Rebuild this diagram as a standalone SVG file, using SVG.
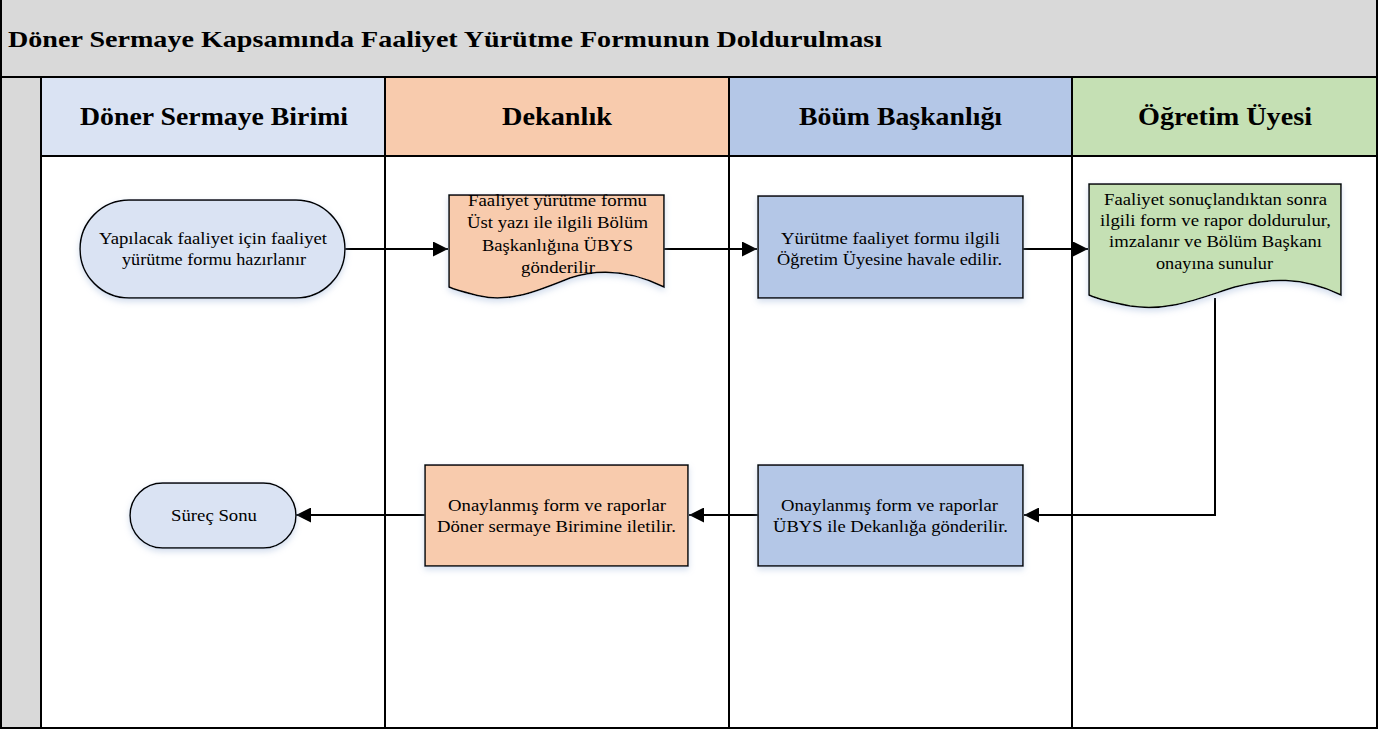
<svg xmlns="http://www.w3.org/2000/svg" width="1398" height="731" viewBox="0 0 1398 731">
  <style>
    .frame { stroke: #000; stroke-width: 2; }
    .shape { stroke: #000; stroke-width: 1.5; filter: url(#soft); }
    .title { font-family: "Liberation Serif", "Times New Roman", "DejaVu Serif", serif; font-weight: bold; font-size: 23px; fill: #000; }
    .lane { font-family: "Liberation Serif", "Times New Roman", "DejaVu Serif", serif; font-weight: bold; font-size: 26px; fill: #000; }
    .label { font-family: "Liberation Serif", "Times New Roman", "DejaVu Serif", serif; font-size: 17px; fill: #000; }
    .flow { fill: none; stroke: #000; stroke-width: 2; marker-end: url(#arrow); }
  </style>
  <defs>
    <marker id="arrow" viewBox="0 0 10 10" refX="10" refY="5" markerWidth="7.5" markerHeight="7.5" markerUnits="strokeWidth" orient="auto">
      <path d="M0,0 L10,5 L0,10 Z" fill="#000"/>
    </marker>
    <filter id="soft" x="-10%" y="-10%" width="120%" height="130%">
      <feGaussianBlur in="SourceAlpha" stdDeviation="3"/>
      <feOffset dx="0" dy="3" result="b"/>
      <feFlood flood-color="#9db4d8" flood-opacity="0.45"/>
      <feComposite in2="b" operator="in"/>
      <feMerge><feMergeNode/><feMergeNode in="SourceGraphic"/></feMerge>
    </filter>
  </defs>

  <!-- pool frame -->
  <g id="pool">
    <rect x="1" y="-2" width="1376" height="79" fill="#d9d9d9" class="frame"/>
    <text x="8" y="47" class="title" textLength="874" lengthAdjust="spacingAndGlyphs">Döner Sermaye Kapsamında Faaliyet Yürütme Formunun Doldurulması</text>
    <rect x="1" y="77" width="40" height="651" fill="#d9d9d9" class="frame"/>
  </g>

  <!-- swimlanes -->
  <g id="lane-doner">
    <rect x="41" y="77" width="344" height="79" fill="#dae3f3" class="frame"/>
    <rect x="41" y="156" width="344" height="572" fill="#fff" class="frame"/>
    <text x="80" y="125" class="lane" textLength="268" lengthAdjust="spacingAndGlyphs">Döner Sermaye Birimi</text>
  </g>
  <g id="lane-dekanlik">
    <rect x="385" y="77" width="344" height="79" fill="#f8cbad" class="frame"/>
    <rect x="385" y="156" width="344" height="572" fill="#fff" class="frame"/>
    <text x="502" y="125" class="lane" textLength="110" lengthAdjust="spacingAndGlyphs">Dekanlık</text>
  </g>
  <g id="lane-bolum">
    <rect x="729" y="77" width="343" height="79" fill="#b4c7e7" class="frame"/>
    <rect x="729" y="156" width="343" height="572" fill="#fff" class="frame"/>
    <text x="799" y="125" class="lane" textLength="203" lengthAdjust="spacingAndGlyphs">Böüm Başkanlığı</text>
  </g>
  <g id="lane-ogretim">
    <rect x="1072" y="77" width="305" height="79" fill="#c5e0b4" class="frame"/>
    <rect x="1072" y="156" width="305" height="572" fill="#fff" class="frame"/>
    <text x="1138" y="125" class="lane" textLength="174" lengthAdjust="spacingAndGlyphs">Öğretim Üyesi</text>
  </g>

  <!-- connectors -->
  <g id="connectors">
    <path d="M345,249 H448" class="flow"/>
    <path d="M664,249 H757" class="flow"/>
    <path d="M1023,249 H1088" class="flow"/>
    <path d="M1215,298 V515 H1024" class="flow"/>
    <path d="M758,515 H689" class="flow"/>
    <path d="M425,515 H296" class="flow"/>
  </g>

  <!-- nodes -->
  <g id="start">
    <rect x="80" y="200" width="265" height="98" rx="49" ry="49" fill="#dae3f3" class="shape"/>
    <text x="99" y="244" class="label" textLength="228" lengthAdjust="spacingAndGlyphs">Yapılacak faaliyet için faaliyet</text>
    <text x="122" y="265" class="label" textLength="184" lengthAdjust="spacingAndGlyphs">yürütme formu hazırlanır</text>
  </g>

  <g id="dekanlik-doc">
    <path d="M449,195 H664 V287 C630,270 600,268 570,278 C540,290 510,303 480,296 C468,293 458,291 449,287 Z" fill="#f8cbad" class="shape"/>
    <text x="468" y="206" class="label" textLength="179" lengthAdjust="spacingAndGlyphs">Faaliyet yürütme formu</text>
    <text x="467" y="228" class="label" textLength="181" lengthAdjust="spacingAndGlyphs">Üst yazı ile ilgili Bölüm</text>
    <text x="482" y="251" class="label" textLength="151" lengthAdjust="spacingAndGlyphs">Başkanlığına ÜBYS</text>
    <text x="521" y="273" class="label" textLength="74" lengthAdjust="spacingAndGlyphs">gönderilir</text>
  </g>

  <g id="havale">
    <rect x="758" y="196" width="265" height="102" fill="#b4c7e7" class="shape"/>
    <text x="781" y="244" class="label" textLength="219" lengthAdjust="spacingAndGlyphs">Yürütme faaliyet formu ilgili</text>
    <text x="777" y="265" class="label" textLength="225" lengthAdjust="spacingAndGlyphs">Öğretim Üyesine havale edilir.</text>
  </g>

  <g id="ogretim-doc">
    <path d="M1089,184 H1341 V295 C1302,276 1268,278 1235,287 C1200,298 1170,312 1130,306 C1114,303 1100,300 1089,295 Z" fill="#c5e0b4" class="shape"/>
    <text x="1104" y="205" class="label" textLength="223" lengthAdjust="spacingAndGlyphs">Faaliyet sonuçlandıktan sonra</text>
    <text x="1100" y="226" class="label" textLength="231" lengthAdjust="spacingAndGlyphs">ilgili form ve rapor doldurulur,</text>
    <text x="1109" y="247" class="label" textLength="213" lengthAdjust="spacingAndGlyphs">imzalanır ve Bölüm Başkanı</text>
    <text x="1156" y="269" class="label" textLength="117" lengthAdjust="spacingAndGlyphs">onayına sunulur</text>
  </g>

  <g id="bolum-gonder">
    <rect x="758" y="465" width="265" height="101" fill="#b4c7e7" class="shape"/>
    <text x="781" y="511" class="label" textLength="217" lengthAdjust="spacingAndGlyphs">Onaylanmış form ve raporlar</text>
    <text x="773" y="532" class="label" textLength="235" lengthAdjust="spacingAndGlyphs">ÜBYS ile Dekanlığa gönderilir.</text>
  </g>

  <g id="dekanlik-ilet">
    <rect x="425" y="465" width="263" height="101" fill="#f8cbad" class="shape"/>
    <text x="448" y="511" class="label" textLength="218" lengthAdjust="spacingAndGlyphs">Onaylanmış form ve raporlar</text>
    <text x="437" y="532" class="label" textLength="239" lengthAdjust="spacingAndGlyphs">Döner sermaye Birimine iletilir.</text>
  </g>

  <g id="end">
    <rect x="130" y="483" width="166" height="65" rx="32.5" ry="32.5" fill="#dae3f3" class="shape"/>
    <text x="171" y="521" class="label" textLength="86" lengthAdjust="spacingAndGlyphs">Süreç Sonu</text>
  </g>
</svg>
